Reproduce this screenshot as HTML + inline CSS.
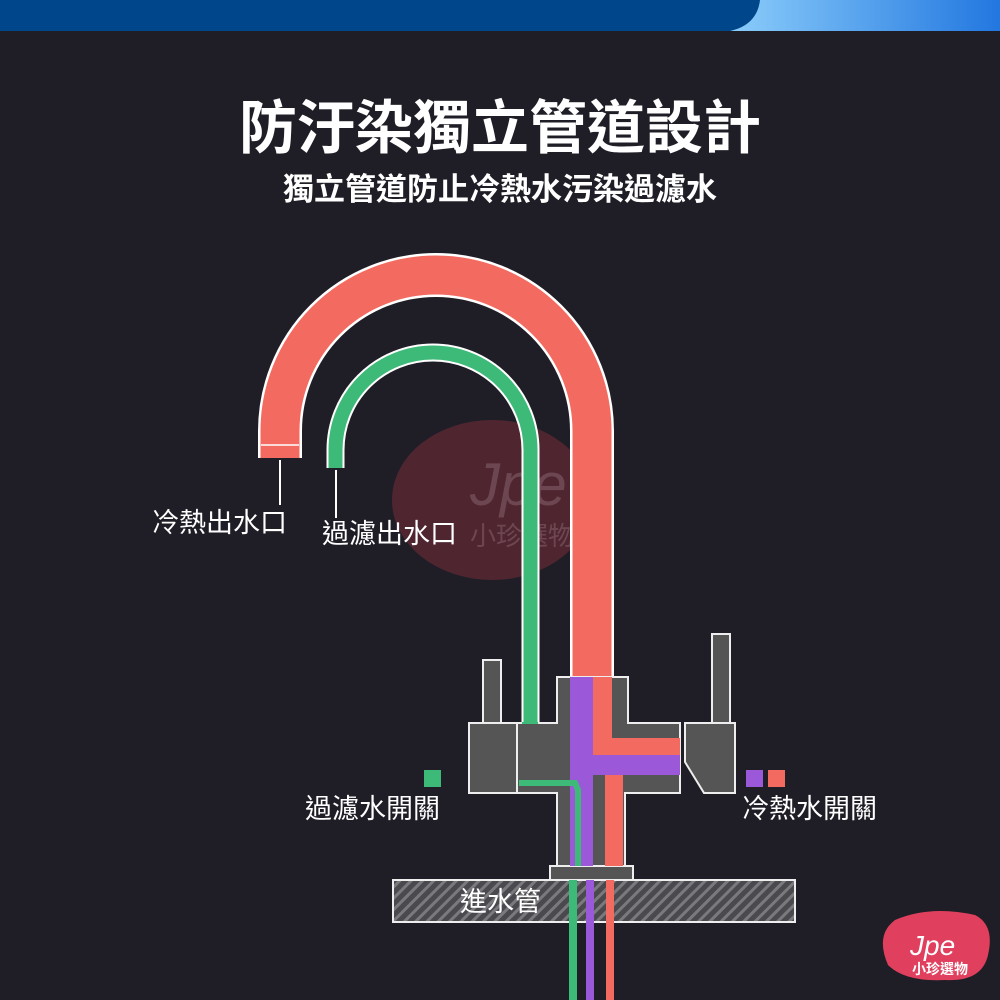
<!DOCTYPE html>
<html><head><meta charset="utf-8"><style>
html,body{margin:0;padding:0;width:1000px;height:1000px;overflow:hidden;background:#1f1e26}
svg{display:block}
text{font-family:"Liberation Sans","Noto Sans CJK TC",sans-serif;fill:#fff}
</style></head><body>
<svg width="1000" height="1000" viewBox="0 0 1000 1000" xmlns="http://www.w3.org/2000/svg">
<defs>
<linearGradient id="lb" x1="0" x2="1"><stop offset="0" stop-color="#8fd0fb"/><stop offset="1" stop-color="#2277e0"/></linearGradient>
<pattern id="hat" width="8" height="8" patternUnits="userSpaceOnUse" patternTransform="rotate(45)">
<rect width="8" height="8" fill="#4a4a4e"/><rect width="3" height="8" fill="#7a7a7e"/></pattern>
</defs>
<rect width="1000" height="1000" fill="#1f1e26"/>
<rect x="720" y="0" width="280" height="31" fill="url(#lb)"/>
<path d="M0 0 H760 Q757 25 730 31 H0 Z" fill="#00468a"/>
<text x="500" y="148" font-size="58" font-weight="bold" text-anchor="middle">防汙染獨立管道設計</text>
<text x="500" y="200" font-size="31" font-weight="bold" text-anchor="middle">獨立管道防止冷熱水污染過濾水</text>
<!-- watermark -->
<ellipse cx="492" cy="500" rx="100" ry="80" fill="#c0394a" opacity="0.3"/>
<text x="470" y="505" font-size="60" font-style="italic" fill="#8a6a74" opacity="0.5" style="fill:#8a6a74">Jpe</text>
<text x="470" y="545" font-size="26" style="fill:#8a6a74" opacity="0.5">小珍選物</text>
<!-- red pipe -->
<path d="M280 458 V431 A156 156 0 0 1 592 431 V680" fill="none" stroke="#fff" stroke-width="44"/>
<path d="M280 458 V431 A156 156 0 0 1 592 431 V680" fill="none" stroke="#f36b60" stroke-width="39"/>
<line x1="261" y1="445" x2="299" y2="445" stroke="#fff" stroke-width="1.5"/>
<!-- green pipe -->
<path d="M335.5 468 V450 A97.5 97.5 0 0 1 530.5 450 V724" fill="none" stroke="#fff" stroke-width="18"/>
<path d="M335.5 468 V450 A97.5 97.5 0 0 1 530.5 450 V724" fill="none" stroke="#3dba78" stroke-width="14"/>
<!-- label lines -->
<line x1="280" y1="460" x2="280" y2="505" stroke="#fff" stroke-width="2"/>
<line x1="336" y1="470" x2="336" y2="518" stroke="#fff" stroke-width="2"/>
<text x="152" y="532" font-size="27">冷熱出水口</text>
<text x="322" y="543" font-size="27">過濾出水口</text>
<!-- faucet body -->
<g fill="#555" stroke="#eee" stroke-width="2">
<rect x="483" y="660" width="18" height="63"/>
<rect x="469" y="723" width="48" height="70"/>
<rect x="712" y="634" width="18" height="89"/>
<path d="M685 723 H735 V793 H704 L685 762 Z"/>
<path d="M557 677 H628 V723 H680 V793 H625 V866 H557 V793 H517 V723 H557 Z"/>
<rect x="550" y="866" width="83" height="14"/>
</g>
<!-- channels -->
<rect x="570" y="677" width="23" height="189" fill="#9b59d9"/>
<rect x="593" y="677" width="19" height="78" fill="#f36b60"/>
<rect x="593" y="738" width="87" height="17" fill="#f36b60"/>
<rect x="570" y="755" width="110" height="20" fill="#9b59d9"/>
<rect x="605" y="775" width="18" height="91" fill="#f36b60"/>
<path d="M519 783 H575 L578 790 V866" fill="none" stroke="#3dba78" stroke-width="6"/>
<rect x="522" y="722" width="16" height="2" fill="#3dba78"/>
<!-- slab -->
<rect x="393" y="880" width="402" height="42" fill="url(#hat)" stroke="#eee" stroke-width="2"/>
<text x="460" y="911" font-size="27">進水管</text>
<rect x="569" y="880" width="8" height="120" fill="#3dba78"/>
<rect x="586" y="880" width="8" height="120" fill="#9b59d9"/>
<rect x="606" y="880" width="8" height="120" fill="#f36b60"/>
<!-- switch labels -->
<rect x="424" y="770" width="17" height="17" fill="#3dba78"/>
<text x="305" y="818" font-size="27">過濾水開關</text>
<rect x="746" y="770" width="17" height="17" fill="#9b59d9"/>
<rect x="768" y="770" width="17" height="17" fill="#f36b60"/>
<text x="742" y="818" font-size="27">冷熱水開關</text>
<!-- logo -->
<path d="M895 920 Q930 905 975 915 Q995 925 988 955 Q982 982 945 980 Q905 982 888 965 Q875 935 895 920 Z" fill="#e0405e"/>
<text x="910" y="955" font-size="28" font-style="italic">Jpe</text>
<text x="912" y="974" font-size="14" font-weight="bold">小珍選物</text>
</svg>
</body></html>
